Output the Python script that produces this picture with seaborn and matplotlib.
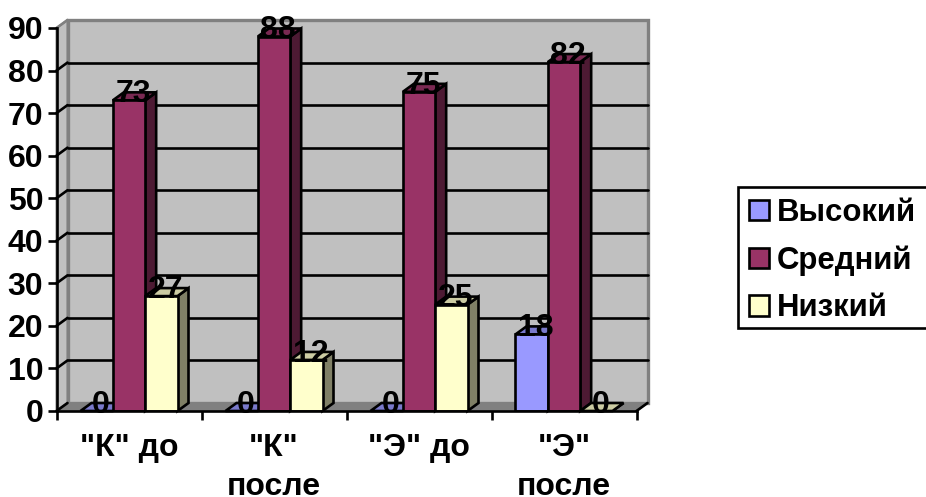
import pandas as pd
import seaborn as sns
import matplotlib
matplotlib.use("Agg")
import matplotlib.pyplot as plt
from matplotlib.patches import Polygon, Patch, Rectangle

categories = ['"К" до', '"К"\nпосле', '"Э" до', '"Э"\nпосле']
series_names = ["Высокий", "Средний", "Низкий"]
high = [0, 0, 0, 18]
mid = [73, 88, 75, 82]
low = [27, 12, 25, 0]

front_colors = ["#9999FF", "#993366", "#FFFFCC"]
top_colors = ["#7A7ACC", "#7A2952", "#CCCCA3"]
side_colors = ["#4D4D80", "#4D1A33", "#808066"]

rows = []
for name, vals in zip(series_names, [high, mid, low]):
    for cat, v in zip(categories, vals):
        rows.append({"group": cat, "level": name, "value": v})
df = pd.DataFrame(rows)

sns.set_theme(style="white")
plt.rcParams["font.family"] = ["Liberation Sans", "DejaVu Sans"]
plt.rcParams["font.weight"] = "bold"

W, H = 926, 497
LW = 1.9
FS = 23
fig = plt.figure(figsize=(W / 100, H / 100), dpi=100)
ax = fig.add_axes([56.5 / W, (H - 411) / H, 580 / W, 383 / H])

sns.barplot(data=df, x="group", y="value", hue="level", hue_order=series_names,
            order=categories, palette=front_colors, saturation=1, width=0.669,
            gap=0, edgecolor="black", linewidth=LW, legend=False, ax=ax)

ax.set_xlim(-0.5, 3.5)
ax.set_ylim(0, 90)
ax.set_xlabel("")
ax.set_ylabel("")

# depth of the fake 3d box, in data units
dx = 11 / 145
dy = 8 / (383 / 90)

# walls and floor
ax.add_patch(Polygon([(-0.5 + dx, dy), (3.5 + dx, dy), (3.5 + dx, 90 + dy), (-0.5 + dx, 90 + dy)],
                     fc="#C0C0C0", ec="#808080", lw=2.4, zorder=0.2, clip_on=False))
ax.add_patch(Polygon([(-0.5, 0), (-0.5 + dx, dy), (-0.5 + dx, 90 + dy), (-0.5, 90)],
                     fc="#C0C0C0", ec="#808080", lw=1.4, zorder=0.1, clip_on=False))
ax.add_patch(Polygon([(-0.5, 0), (3.5, 0), (3.5 + dx, dy), (-0.5 + dx, dy)],
                     fc="#808080", ec="#808080", lw=1, zorder=0.3, clip_on=False))

# gridlines on the back wall, short diagonals on the left wall
for v in range(10, 90, 10):
    ax.plot([-0.5 + dx, 3.5 + dx], [v + dy, v + dy], color="black", lw=LW, zorder=0.5, clip_on=False)
for v in range(0, 100, 10):
    ax.plot([-0.5, -0.5 + dx], [v, v + dy], color="black" if v < 90 else "#808080",
            lw=LW, zorder=0.5, clip_on=False)
ax.plot([3.5, 3.5 + dx], [0, dy], color="black", lw=LW, zorder=0.5, clip_on=False)

# side and top faces taken from the bars seaborn drew
for i, container in enumerate(ax.containers):
    for j, bar in enumerate(container):
        x0 = bar.get_x()
        x1 = x0 + bar.get_width()
        v = bar.get_height()
        z = 3 + j * 3 + i * 0.3
        bar.set_zorder(z + 0.2)
        ax.add_patch(Polygon([(x1, 0), (x1 + dx, dy), (x1 + dx, v + dy), (x1, v)],
                             fc=side_colors[i], ec="black", lw=LW, zorder=z, clip_on=False))
        ax.add_patch(Polygon([(x0, v), (x1, v), (x1 + dx, v + dy), (x0 + dx, v + dy)],
                             fc=top_colors[i], ec="black", lw=LW, zorder=z + 0.1, clip_on=False))
        ax.text((x0 + x1) / 2 + 4 / 145, v - 0.4, f"{v:.0f}", ha="center", va="baseline",
                fontsize=FS, fontweight="bold", color="black", zorder=30, clip_on=False)

for s in ["top", "right"]:
    ax.spines[s].set_visible(False)
for s in ["left", "bottom"]:
    ax.spines[s].set_color("black")
    ax.spines[s].set_linewidth(LW)
    ax.spines[s].set_zorder(20)

ax.set_yticks(range(0, 100, 10))
ax.set_xticks([-0.5, 0.5, 1.5, 2.5, 3.5], minor=True)
ax.set_xticks(range(4))
ax.set_xticklabels(categories, fontsize=FS, fontweight="bold", linespacing=1.38, color="black")
ax.tick_params(axis="y", which="major", left=True, length=6.5, width=LW, color="black",
               labelsize=FS, labelcolor="black", pad=3)
ax.tick_params(axis="x", which="major", bottom=False, length=0, pad=16)
ax.tick_params(axis="x", which="minor", bottom=True, length=6.5, width=LW, color="black")

# legend box runs off the right edge of the picture
fig.add_artist(Rectangle((738 / W, 1 - 328 / H), 200 / W, 141 / H, transform=fig.transFigure,
                         fc="white", ec="black", lw=LW, zorder=1))
handles = [Patch(fc=c, ec="black", lw=LW) for c in front_colors]
leg = fig.legend(handles, series_names, loc="upper left", bbox_to_anchor=(749 / W, 1 - 198 / H),
                 bbox_transform=fig.transFigure, fontsize=22.4, frameon=False, borderaxespad=0,
                 borderpad=0, handlelength=0.64, handleheight=0.64, handletextpad=0.26,
                 labelspacing=0.56, labelcolor="black")
leg.set_zorder(2)

fig.savefig("out.png", dpi=100)
